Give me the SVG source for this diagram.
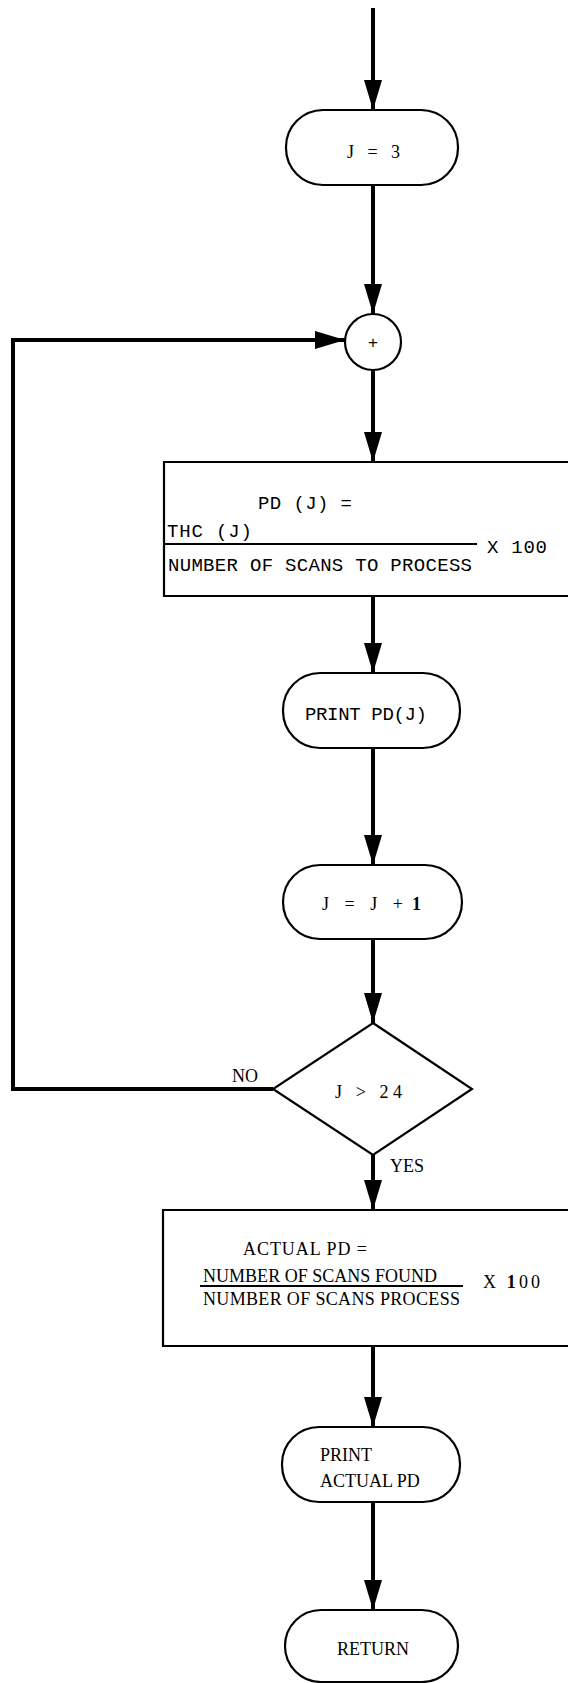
<svg xmlns="http://www.w3.org/2000/svg" width="568" height="1683" viewBox="0 0 568 1683">
<style>
.bg{fill:#fff}
.shape{fill:#fff;stroke:#000;stroke-width:2.2}
.box{fill:none;stroke:#000;stroke-width:2.2}
.conn{fill:none;stroke:#000;stroke-width:4}
.frac{stroke:#000;stroke-width:1.8}
.mono{font-family:"Liberation Mono","DejaVu Sans Mono",monospace;font-size:19px;fill:#000}
.serif{font-family:"Liberation Serif","DejaVu Serif",serif;font-size:18px;fill:#000}
</style>
<defs>
<marker id="ah" markerUnits="userSpaceOnUse" markerWidth="32" markerHeight="20" refX="30" refY="9" orient="auto">
<path d="M0,0 L30,9 L0,18 z" fill="#000"/>
</marker>
</defs>
<rect class="bg" x="0" y="0" width="568" height="1683"/>
<g id="connectors">
<line class="conn" x1="373" y1="8" x2="373" y2="110" marker-end="url(#ah)"/>
<line class="conn" x1="373" y1="185" x2="373" y2="314" marker-end="url(#ah)"/>
<line class="conn" x1="373" y1="370" x2="373" y2="462" marker-end="url(#ah)"/>
<line class="conn" x1="373" y1="596" x2="373" y2="673" marker-end="url(#ah)"/>
<line class="conn" x1="373" y1="748" x2="373" y2="865" marker-end="url(#ah)"/>
<line class="conn" x1="373" y1="939" x2="373" y2="1023" marker-end="url(#ah)"/>
<line class="conn" x1="373" y1="1155" x2="373" y2="1210" marker-end="url(#ah)"/>
<line class="conn" x1="373" y1="1346" x2="373" y2="1427" marker-end="url(#ah)"/>
<line class="conn" x1="373" y1="1502" x2="373" y2="1610" marker-end="url(#ah)"/>
<polyline class="conn" points="273,1089 13,1089 13,340 345,340" marker-end="url(#ah)"/>
<text class="serif" x="232" y="1082" font-size="16">NO</text>
<text class="serif" x="390" y="1172" font-size="16">YES</text>
</g>
<g id="init">
<rect class="shape" x="286" y="110" width="172" height="75" rx="37" ry="37"/>
<text class="serif" x="347" y="158" textLength="53" lengthAdjust="spacing">J = 3</text>
</g>
<g id="connector-node">
<circle class="shape" cx="373" cy="342" r="28"/>
<text x="373" y="348" text-anchor="middle" style="font-family:'Liberation Sans',sans-serif;font-size:17px">+</text>
</g>
<g id="compute-pd">
<path class="box" d="M568,462 L164,462 L164,596 L568,596"/>
<text class="mono" x="258" y="509" textLength="94" lengthAdjust="spacing">PD (J) =</text>
<text class="mono" x="167" y="537" textLength="85" lengthAdjust="spacing">THC (J)</text>
<line class="frac" x1="165" y1="544" x2="477" y2="544"/>
<text class="mono" x="168" y="571" textLength="304" lengthAdjust="spacing">NUMBER OF SCANS TO PROCESS</text>
<text class="mono" x="487" y="553" textLength="60" lengthAdjust="spacing">X 100</text>
</g>
<g id="print-pd">
<rect class="shape" x="283" y="673" width="177" height="75" rx="37" ry="37"/>
<text class="mono" x="305" y="720" textLength="122" lengthAdjust="spacing">PRINT PD(J)</text>
</g>
<g id="increment">
<rect class="shape" x="283" y="865" width="179" height="74" rx="37" ry="37"/>
<text class="serif" x="322" y="910" textLength="81" lengthAdjust="spacing">J = J +</text>
<text class="serif" x="412" y="910" font-weight="bold">1</text>
</g>
<g id="decision">
<polygon class="shape" points="373,1023 472,1089 373,1155 273,1089"/>
<text class="serif" x="335" y="1098" textLength="67" lengthAdjust="spacing">J &gt; 24</text>
</g>
<g id="compute-actual">
<path class="box" d="M568,1210 L163,1210 L163,1346 L568,1346"/>
<text class="serif" x="243" y="1255" textLength="124" lengthAdjust="spacing">ACTUAL PD =</text>
<text class="serif" x="203" y="1282" textLength="234" lengthAdjust="spacing">NUMBER OF SCANS FOUND</text>
<line class="frac" x1="200" y1="1286" x2="463" y2="1286"/>
<text class="serif" x="203" y="1305" textLength="257" lengthAdjust="spacing">NUMBER OF SCANS PROCESS</text>
<text class="serif" x="483" y="1288" textLength="57" lengthAdjust="spacing">X <tspan font-weight="bold">1</tspan>00</text>
</g>
<g id="print-actual">
<rect class="shape" x="282" y="1427" width="178" height="75" rx="37" ry="37"/>
<text class="serif" x="320" y="1461" font-size="17">PRINT</text>
<text class="serif" x="320" y="1487" font-size="17">ACTUAL PD</text>
</g>
<g id="return">
<rect class="shape" x="285" y="1610" width="173" height="72" rx="36" ry="36"/>
<text class="serif" x="373" y="1655" font-size="16" text-anchor="middle">RETURN</text>
</g>
</svg>
